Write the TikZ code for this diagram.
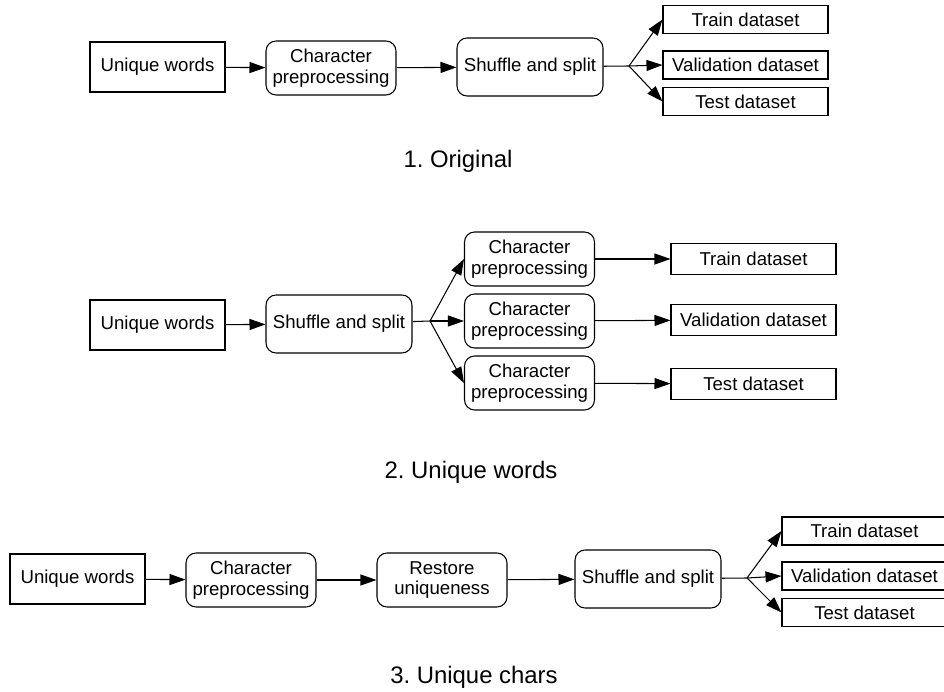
\documentclass[tikz,border=0pt]{standalone}
\usepackage{fontspec}
\setmainfont{Liberation Sans}
\usetikzlibrary{arrows.meta, positioning}

\begin{document}
\frenchspacing
\begin{tikzpicture}[
  x=0.02cm, y=-0.02cm,
  every node/.style={font=\fontsize{10.6}{11.6}\selectfont, align=center, inner sep=1pt},
  src/.style={draw, line width=0.6pt, minimum width=2.7cm, minimum height=1.0cm},
  proc/.style={draw, line width=0.6pt, rounded corners=0.2cm, minimum width=2.6cm, minimum height=1.08cm},
  split/.style={proc, minimum width=2.92cm, minimum height=1.16cm},
  dset/.style={draw, line width=0.6pt, minimum width=3.3cm, minimum height=0.56cm},
  caption/.style={font=\fontsize{13.6}{15}\selectfont},
  arr/.style={-{Triangle[length=0.32cm, width=0.22cm]}, line width=0.6pt},
  lin/.style={line width=0.6pt},
]
  \clip (0,0) rectangle (944,692);

  % 1. Original
  \node[src]   (uw1) at (157.5,67) {Unique words};
  \node[proc]  (cp1) at (331,68) {Character\\preprocessing};
  \node[split] (ss1) at (530,67) {Shuffle and split};
  \coordinate  (br1) at (629,66);
  \node[dset]  (tr1) at (745.5,19.5) {Train dataset};
  \node[dset]  (va1) at (745.5,65) {Validation dataset};
  \node[dset]  (te1) at (745.5,101.5) {Test dataset};
  \draw[arr] (uw1) -- (cp1);
  \draw[arr] (cp1) -- (ss1);
  \draw[lin] (ss1) -- (br1);
  \draw[arr] (br1) -- (tr1.west);
  \draw[arr] (br1) -- (va1.west);
  \draw[arr] (br1) -- (te1.west);
  \node[caption] (t1) at (458,161) {1. Original};

  % 2. Unique words
  \node[src]   (uw2) at (157.5,325) {Unique words};
  \node[split] (ss2) at (339,324) {Shuffle and split};
  \coordinate  (br2) at (430,321);
  \node[proc]  (cp2a) at (529.5,259) {Character\\preprocessing};
  \node[proc]  (cp2b) at (529.5,321) {Character\\preprocessing};
  \node[proc]  (cp2c) at (529.5,383) {Character\\preprocessing};
  \node[dset, minimum height=0.62cm] (tr2) at (753.5,259) {Train dataset};
  \node[dset, minimum height=0.62cm] (va2) at (753.5,320) {Validation dataset};
  \node[dset, minimum height=0.62cm] (te2) at (753.5,384) {Test dataset};
  \draw[arr] (uw2) -- (ss2);
  \draw[lin] (ss2) -- (br2);
  \draw[arr] (br2) -- (cp2a.west);
  \draw[arr] (br2) -- (cp2b.west);
  \draw[arr] (br2) -- (cp2c.west);
  \draw[arr] (cp2a) -- (tr2);
  \draw[arr] (cp2b) -- (va2);
  \draw[arr] (cp2c) -- (te2);
  \node[caption] (t2) at (471,472) {2. Unique words};

  % 3. Unique chars
  \node[src]   (uw3) at (77.5,579) {Unique words};
  \node[proc]  (cp3) at (251,580) {Character\\preprocessing};
  \node[proc]  (ru3) at (442,580) {Restore\\uniqueness};
  \node[split] (ss3) at (648,579) {Shuffle and split};
  \coordinate  (br3) at (747,578);
  \node[dset]  (tr3) at (864.5,531) {Train dataset};
  \node[dset]  (va3) at (864.5,576) {Validation dataset};
  \node[dset]  (te3) at (864.5,612.5) {Test dataset};
  \draw[arr] (uw3) -- (cp3);
  \draw[arr] (cp3) -- (ru3);
  \draw[arr] (ru3) -- (ss3);
  \draw[lin] (ss3) -- (br3);
  \draw[arr] (br3) -- (tr3.west);
  \draw[arr] (br3) -- (va3.west);
  \draw[arr] (br3) -- (te3.west);
  \node[caption] (t3) at (474,677) {3. Unique chars};
\end{tikzpicture}
\end{document}
